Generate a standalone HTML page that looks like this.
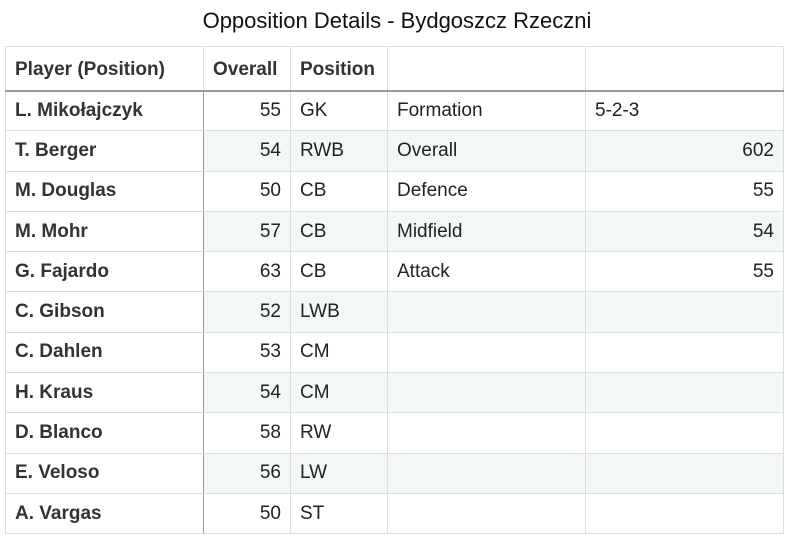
<!DOCTYPE html>
<html><head><style>
body{margin:0;width:794px;height:542px;background:#fff;font-family:"Liberation Sans",Arial,sans-serif;color:#222;position:relative;overflow:hidden}
.t{position:absolute;top:8px;left:0;width:794px;text-align:center;font-size:22px;color:#111}
table{position:absolute;left:5px;top:46px;border-collapse:collapse;font-size:19px}
td,th{border:1px solid #ddd;padding:0 9px;height:40.3px;box-sizing:border-box;white-space:nowrap}
th{text-align:left;font-weight:bold;height:44px;padding-top:3px;border-bottom:2px solid #999;color:#333}
table{border:1px solid #aaa}
td.p{font-weight:bold;color:#333;border-right:1px solid #999}
td.n{text-align:right}
tbody tr:nth-child(even) td:not(.p){background:#f3f7f6}
</style></head><body>
<div class="t">Opposition Details - Bydgoszcz Rzeczni</div>
<table>
<colgroup><col style="width:198px"><col style="width:87px"><col style="width:97px"><col style="width:198px"><col style="width:198px"></colgroup>
<thead><tr><th>Player (Position)</th><th>Overall</th><th>Position</th><th></th><th></th></tr></thead>
<tbody>
<tr><td class="p">L. Mikołajczyk</td><td class="n">55</td><td>GK</td><td>Formation</td><td>5-2-3</td></tr>
<tr><td class="p">T. Berger</td><td class="n">54</td><td>RWB</td><td>Overall</td><td class="n">602</td></tr>
<tr><td class="p">M. Douglas</td><td class="n">50</td><td>CB</td><td>Defence</td><td class="n">55</td></tr>
<tr><td class="p">M. Mohr</td><td class="n">57</td><td>CB</td><td>Midfield</td><td class="n">54</td></tr>
<tr><td class="p">G. Fajardo</td><td class="n">63</td><td>CB</td><td>Attack</td><td class="n">55</td></tr>
<tr><td class="p">C. Gibson</td><td class="n">52</td><td>LWB</td><td></td><td></td></tr>
<tr><td class="p">C. Dahlen</td><td class="n">53</td><td>CM</td><td></td><td></td></tr>
<tr><td class="p">H. Kraus</td><td class="n">54</td><td>CM</td><td></td><td></td></tr>
<tr><td class="p">D. Blanco</td><td class="n">58</td><td>RW</td><td></td><td></td></tr>
<tr><td class="p">E. Veloso</td><td class="n">56</td><td>LW</td><td></td><td></td></tr>
<tr><td class="p">A. Vargas</td><td class="n">50</td><td>ST</td><td></td><td></td></tr>
</tbody></table>
</body></html>
